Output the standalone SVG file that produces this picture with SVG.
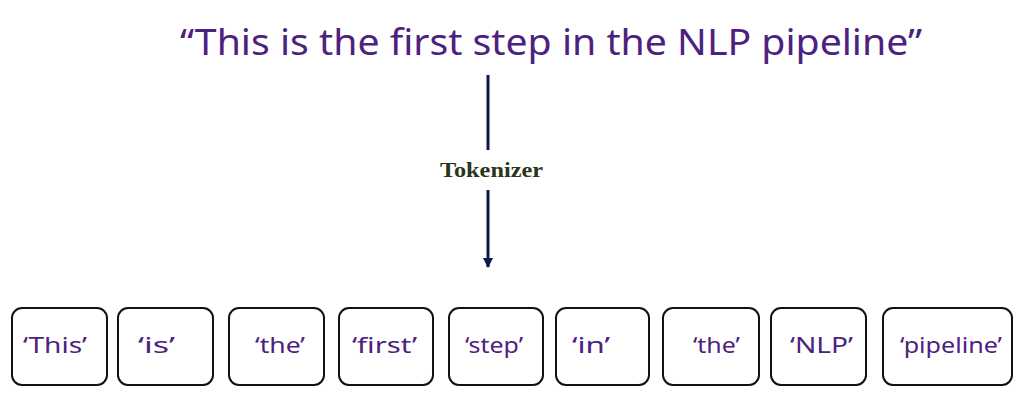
<svg xmlns="http://www.w3.org/2000/svg" width="1029" height="405" viewBox="0 0 1029 405">
<defs>
<style>
.title{font-family:"Noto Sans","DejaVu Sans",sans-serif;font-size:36px;fill:#4e2180;}
.tok{font-family:"Noto Sans","DejaVu Sans",sans-serif;font-size:22px;fill:#4e2180;}
.lbl{font-family:"Liberation Serif","Times New Roman",serif;font-size:21px;font-weight:bold;fill:#2b3519;}
.box{fill:#ffffff;stroke:#111111;stroke-width:2;}
.line{stroke:#0e1a4c;stroke-width:3;fill:none;}
</style>
<marker id="ah" markerWidth="10" markerHeight="10" refX="9" refY="5" orient="auto" markerUnits="userSpaceOnUse">
<path d="M0,0 L10,5 L0,10 Z" fill="#0e1a4c"/>
</marker>
</defs>
<rect width="1029" height="405" fill="#ffffff"/>
<g id="sentence">
<text class="title" x="180" y="55" textLength="742" lengthAdjust="spacingAndGlyphs">“This is the first step in the NLP pipeline”</text>
</g>
<g id="connectors">
<line class="line" x1="488" y1="75" x2="488" y2="150"/>
<line class="line" x1="488" y1="190" x2="488" y2="267" marker-end="url(#ah)"/>
<text class="lbl" x="440" y="177" textLength="103" lengthAdjust="spacingAndGlyphs">Tokenizer</text>
</g>
<g id="t1"><rect class="box" x="12" y="308" width="95" height="77" rx="10"/><text class="tok" x="23" y="353" textLength="64" lengthAdjust="spacingAndGlyphs">‘This’</text></g>
<g id="t2"><rect class="box" x="118" y="308" width="95" height="77" rx="10"/><text class="tok" x="138" y="353" textLength="37" lengthAdjust="spacingAndGlyphs">‘is’</text></g>
<g id="t3"><rect class="box" x="229" y="308" width="95" height="77" rx="10"/><text class="tok" x="255" y="353" textLength="50" lengthAdjust="spacingAndGlyphs">‘the’</text></g>
<g id="t4"><rect class="box" x="339" y="308" width="94" height="77" rx="10"/><text class="tok" x="352" y="353" textLength="65" lengthAdjust="spacingAndGlyphs">‘first’</text></g>
<g id="t5"><rect class="box" x="449" y="308" width="94" height="77" rx="10"/><text class="tok" x="465" y="353" textLength="58" lengthAdjust="spacingAndGlyphs">‘step’</text></g>
<g id="t6"><rect class="box" x="556" y="308" width="93" height="77" rx="10"/><text class="tok" x="572" y="353" textLength="38" lengthAdjust="spacingAndGlyphs">‘in’</text></g>
<g id="t7"><rect class="box" x="663" y="308" width="96" height="77" rx="10"/><text class="tok" x="693" y="353" textLength="47" lengthAdjust="spacingAndGlyphs">‘the’</text></g>
<g id="t8"><rect class="box" x="771" y="308" width="95" height="77" rx="10"/><text class="tok" x="790" y="353" textLength="63" lengthAdjust="spacingAndGlyphs">‘NLP’</text></g>
<g id="t9"><rect class="box" x="883" y="308" width="129" height="77" rx="10"/><text class="tok" x="900" y="353" textLength="102" lengthAdjust="spacingAndGlyphs">‘pipeline’</text></g>
</svg>
